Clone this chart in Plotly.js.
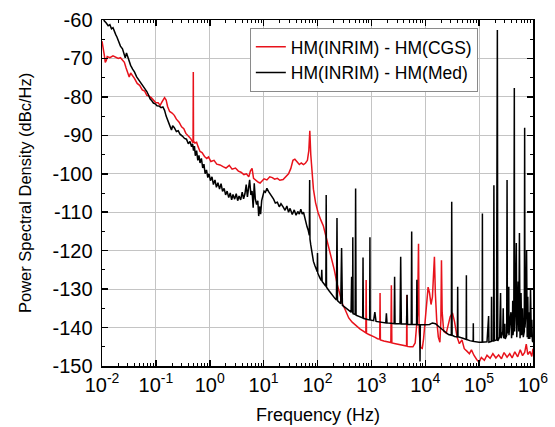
<!DOCTYPE html>
<html>
<head>
<meta charset="utf-8">
<script src="https://cdn.plot.ly/plotly-3.0.1.min.js"></script>
<style>html,body{margin:0;padding:0;background:#fff;}#chart{width:555px;height:427px;}</style>
</head>
<body>
<div id="chart"></div>
<script>
// ---- data ----
const seriesNames = ["HM(INRIM) - HM(CGS)", "HM(INRIM) - HM(Med)"];
const xTitle = "Frequency (Hz)";
const yTitle = "Power Spectral Density (dBc/Hz)";

const redFreq = [0.010,0.0105,0.011,0.0115,0.012,0.0125,0.014,0.016,0.018,0.020,0.022,0.024,0.026,0.028,0.030,0.032,0.034,0.037,0.040,0.045,0.050,0.056,0.062,0.068,0.075,0.082,0.09,0.10,0.11,0.12,0.13,0.145,0.155,0.165,0.18,0.20,0.22,0.24,0.27,0.30,0.33,0.36,0.40,0.44,0.47,0.49,0.495,0.50,0.53,0.57,0.61,0.66,0.72,0.80,0.88,0.95,1.05,1.2,1.35,1.55,1.8,2.0,2.3,2.6,3.0,3.4,3.8,4.3,4.8,5.3,5.7,6.1,6.5,7.2,8.0,8.6,9.3,10.2,11.5,13,14.5,16,18,20,23,26,29,32,35,38,42,46,50,55,60,65,69,72,75,79,84,92,102,115,128,145,165,185,205,230,260,290,330,380,440,520,620,720,790,800,812,900,1000,1150,1300,1430,1450,1470,1700,2000,2300,2350,2400,2800,3300,3800,4300,4500,4550,4600,5200,5900,6500,6900,7200,7500,7700,8200,8800,9300,10000,10600,11300,12000,12800,13600,14300,14800,15400,16300,17500,18700,19500,20000,20600,22000,24500,27000,29000,32000,35000,39000,43000,48000,53000,60000,66000,72000,80000,90000,100000,110000,125000,140000,160000,180000,205000,230000,260000,290000,330000,370000,410000,460000,520000,580000,640000,700000,750000,800000,880000,950000,1000000];
const redPSD = [-65.5,-67,-69,-71,-70.5,-69.5,-69.8,-69.3,-69.6,-70,-69.8,-70.5,-71,-72.5,-73.8,-74.8,-73.8,-74.5,-75.2,-76.5,-77,-78.2,-78.5,-79.6,-79.8,-80.2,-80.8,-81.5,-81.5,-82.2,-81.3,-80.2,-80.8,-82.5,-83.8,-84.2,-84.8,-85.8,-86.6,-87.8,-88.3,-89.5,-90.2,-90.8,-91.5,-92,-73.5,-91.5,-92,-91.8,-93,-94.2,-94.5,-95.5,-96,-95.6,-96.8,-96.5,-97.5,-97.7,-98.2,-98.5,-97.8,-98.8,-98.5,-99.3,-99.6,-100.2,-100,-100.8,-99.2,-98.6,-101.2,-101.8,-102.2,-102.4,-101.8,-101.3,-101.6,-100.8,-101,-101.4,-101.2,-101.7,-101.5,-100.8,-100,-98.6,-96.5,-96.2,-97,-97.6,-97.2,-97.6,-97.2,-96.5,-94,-88.8,-95,-100.5,-104,-107.5,-110,-112,-113.5,-116.5,-119.5,-122,-125,-128.5,-131.5,-133.8,-135.5,-137.5,-138.6,-139.6,-140.4,-141,-141.4,-127.6,-141.5,-141.8,-142.2,-142.5,-142.9,-143,-131,-143.2,-143.5,-143.8,-143.9,-129,-144,-144.2,-144.4,-144.6,-144.7,-144.8,-131.5,-144.9,-145,-145,-144,-138,-136.5,-118.2,-141,-145.2,-145.4,-143,-138,-132.5,-129.5,-131,-134,-132,-127,-121.6,-131,-138,-142.5,-143.8,-138,-122.5,-136,-141,-141.5,-138.5,-137.2,-136.2,-138.5,-142.5,-144.2,-143.2,-145.5,-146.2,-146.8,-145.8,-147.2,-148.3,-149,-147.8,-148.5,-147.2,-148,-146.8,-147.9,-147.1,-148.1,-146.5,-147.7,-146.8,-147.9,-146.3,-147.6,-145.8,-147.3,-146.5,-144.3,-147,-146.2,-147.5,-145.5];

const blackFreq = [0.010,0.0105,0.011,0.012,0.013,0.014,0.015,0.016,0.017,0.018,0.019,0.020,0.021,0.022,0.024,0.026,0.027,0.0285,0.030,0.032,0.034,0.037,0.040,0.044,0.048,0.053,0.058,0.063,0.068,0.073,0.078,0.084,0.09,0.097,0.105,0.115,0.125,0.135,0.145,0.155,0.165,0.175,0.185,0.195,0.205,0.22,0.24,0.26,0.28,0.31,0.34,0.37,0.40,0.43,0.46,0.48,0.50,0.52,0.54,0.57,0.60,0.63,0.66,0.70,0.74,0.78,0.82,0.87,0.92,0.97,1.03,1.1,1.17,1.25,1.33,1.42,1.52,1.62,1.73,1.85,1.97,2.1,2.25,2.4,2.55,2.7,2.9,3.1,3.3,3.5,3.75,4.0,4.25,4.5,4.75,5.0,5.25,5.5,5.8,6.1,6.4,6.7,7.0,7.4,7.8,8.1,8.4,8.8,9.2,9.7,10.2,10.8,11.5,12.3,13.2,14.2,15.3,16.5,18,19.5,21,23,25,27,29,31,34,37,40,43,46,49,52,55,58,61,64,67,69,70.5,71.5,72.5,75,79,84,90,96,99,100,101,110,118,120,122,135,143,145,147,165,190,210,225,230,235,270,280,290,330,370,420,430,440,448,452,458,500,510,520,600,690,700,710,850,930,940,950,1100,1160,1220,1500,1850,1900,1950,2300,2650,2700,2750,3400,3500,3600,4500,4600,4700,5500,5600,5700,6900,7000,7100,7900,8000,8100,10000,12000,13600,15500,18000,21000,24000,27000,30500,31000,31500,35000,39500,40000,40500,50000,57500,58000,58500,67000,77500,78000,78500,100000,114000,115000,116000,140000,150000,152000,168000,170000,172000,185000,188000,191000,210000,218000,222000,240000,250000,255000,275000,280000,285000,300000,305000,325000,330000,335000,352000,355000,358000,375000,390000,400000,415000,420000,425000,440000,450000,455000,470000,490000,500000,515000,530000,545000,560000,575000,590000,600000,615000,630000,640000,660000,690000,700000,710000,740000,760000,780000,800000,820000,840000,850000,870000,900000,930000,950000,975000,1000000];
const blackPSD = [-58.5,-59.5,-60.2,-60.8,-61.5,-61.2,-62.3,-62,-63.2,-63.8,-64.5,-65.5,-66,-66.8,-67.5,-69,-69.8,-68.6,-69.5,-71,-71.8,-72.8,-73.5,-74.8,-75.5,-76.5,-77.3,-77.8,-78.6,-79.5,-80.5,-81,-81.6,-81.8,-82.3,-82.4,-82.8,-82.6,-83.5,-85,-86.2,-87,-87.8,-88.6,-87.5,-88,-89,-88.8,-89.7,-90.2,-90.8,-91,-92.2,-91.6,-93,-92.2,-94,-92.8,-95.3,-94,-96.5,-95.2,-97.2,-96,-98.5,-97.5,-100,-99,-101,-100,-101.8,-100.8,-102.8,-101.6,-103.5,-102.3,-104,-102.6,-104.6,-103.8,-105.5,-104.5,-106.2,-105,-106.8,-105.4,-106.6,-105.2,-107,-105.8,-106.8,-104.8,-106.5,-105.2,-102.8,-106,-104.2,-101.6,-105.5,-104.5,-108.8,-102.5,-106.5,-108,-107,-111,-108.5,-110.5,-107,-105.2,-104.5,-104.8,-103.8,-104.6,-105.2,-106,-106.6,-107.6,-107.4,-108.6,-107.8,-108.6,-109.5,-108.4,-110,-109,-110.6,-109.4,-110.8,-109.8,-110.5,-109.2,-110.5,-110,-111.5,-112.8,-113.8,-114.6,-115.5,-116,-101.6,-117,-118.5,-121,-122.8,-124,-125,-125.5,-120.6,-125.8,-127,-127.8,-125,-128,-128.8,-129.3,-105.5,-129.5,-130.5,-131.8,-132.4,-132.8,-111.5,-133,-133.8,-119.3,-134.2,-134.8,-135.4,-136,-126.8,-136.2,-136.3,-116.5,-136.4,-136.6,-103.8,-136.8,-137.2,-137.5,-121.8,-137.6,-137.9,-138,-116.5,-138,-138.2,-136,-138.4,-138.6,-138.8,-136.3,-138.8,-138.9,-139,-126.8,-139,-139,-121.6,-139.1,-139.1,-131.5,-139.2,-139.2,-115,-139.2,-139.2,-127.6,-139.3,-139.3,-148.8,-139.3,-139.3,-139.2,-138.8,-139,-139.8,-140.6,-141.3,-141.8,-142,-107.3,-142,-142.3,-142.4,-129.4,-142.4,-142.8,-143.1,-126.4,-143.1,-143.4,-143.6,-138.9,-143.6,-143.8,-143.8,-110.3,-143.8,-143.7,-137,-143.8,-143.6,-132,-143.5,-143.5,-103,-143.4,-143.2,-62.6,-143.5,-142.5,-131,-142.8,-141,-135,-142.8,-139,-143,-142,-101.6,-141.5,-140,-129.4,-142,-138,-136,-142.8,-139,-133,-142,-140,-77.7,-141,-136,-118,-142.5,-137,-128,-141,-115.4,-142.8,-139,-131,-142,-138,-135,-142.5,-141,-88,-140,-136,-119.8,-142.5,-132,-143,-138,-136,-143,-130,-142.5,-138,-143.5,-143.8];

const xTickVals = [0.01,0.1,1,10,100,1000,10000,100000,1000000];
const xTickText = ["10<sup>-2</sup>","10<sup>-1</sup>","10<sup>0</sup>","10<sup>1</sup>","10<sup>2</sup>","10<sup>3</sup>","10<sup>4</sup>","10<sup>5</sup>","10<sup>6</sup>"];
const yTickVals = [-150,-140,-130,-120,-110,-100,-90,-80,-70,-60];
const yTickText = ["-150","-140","-130","-120","-110","-100","-90","-80","-70","-60"];

// minor log ticks (2..9 of each decade) for the axis
const xMinor = [];
for (let k = -2; k < 6; k++) for (let d = 2; d <= 9; d++) xMinor.push(d * Math.pow(10, k));

const FONT = "Liberation Sans, Arial, sans-serif";

const traces = [
  {x: redFreq, y: redPSD, type: "scatter", mode: "lines", name: seriesNames[0],
   line: {color: "#e8121b", width: 1.5}},
  {x: blackFreq, y: blackPSD, type: "scatter", mode: "lines", name: seriesNames[1],
   line: {color: "#000000", width: 1.5}}
];

const layout = {
  width: 555, height: 427,
  margin: {l: 102, r: 22, t: 20, b: 61},
  paper_bgcolor: "#fff", plot_bgcolor: "#fff",
  font: {family: FONT, color: "#000"},
  showlegend: true,
  legend: {x: 0.343, y: 0.977, xanchor: "left", yanchor: "top",
           bgcolor: "#fff", bordercolor: "#8a8a8a", borderwidth: 1,
           tracegroupgap: 0,
           font: {family: FONT, size: 17.5, color: "#000"}},
  xaxis: {
    type: "log", range: [-2, 6],
    tickmode: "array", tickvals: xTickVals, ticktext: xTickText,
    ticks: "inside", ticklen: 6, tickwidth: 1.5, tickcolor: "#000",
    minor: {tickmode: "array", tickvals: xMinor, ticks: "inside", ticklen: 3, tickwidth: 1, tickcolor: "#000", showgrid: false},
    showline: true, linecolor: "#000", linewidth: 1.5, mirror: "ticks",
    showgrid: true, gridcolor: "#c4c4c4", gridwidth: 1,
    zeroline: false,
    tickfont: {family: FONT, size: 20, color: "#000"}
  },
  yaxis: {
    range: [-150, -60],
    tickmode: "array", tickvals: yTickVals, ticktext: yTickText,
    ticks: "inside", ticklen: 6, tickwidth: 1.5, tickcolor: "#000",
    minor: {dtick: 5, ticks: "inside", ticklen: 3, tickwidth: 1, tickcolor: "#000", showgrid: false},
    showline: true, linecolor: "#000", linewidth: 1.5, mirror: "ticks",
    showgrid: true, gridcolor: "#c4c4c4", gridwidth: 1,
    zeroline: false,
    tickfont: {family: FONT, size: 20, color: "#000"},
    ticklabelstandoff: 4
  },
  annotations: [
    {text: xTitle, xref: "paper", yref: "paper", x: 0.5, y: 0, xanchor: "center", yanchor: "middle",
     yshift: -49, showarrow: false, font: {family: FONT, size: 18, color: "#000"}},
    {text: yTitle, xref: "paper", yref: "paper", x: 0, y: 0.5, xanchor: "center", yanchor: "middle",
     xshift: -77, textangle: -90, showarrow: false, font: {family: FONT, size: 16.5, color: "#000"}}
  ]
};

Plotly.newPlot("chart", traces, layout, {displayModeBar: false, staticPlot: true});
</script>
</body>
</html>
